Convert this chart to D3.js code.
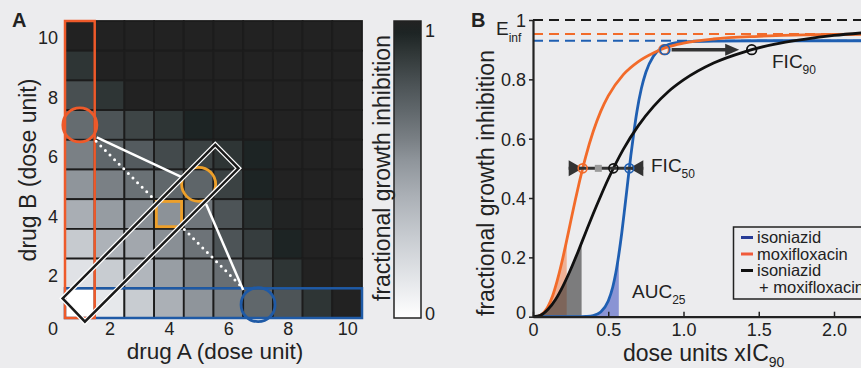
<!DOCTYPE html>
<html>
<head>
<meta charset="utf-8">
<script src="https://cdn.jsdelivr.net/npm/d3@7"></script>
<style>
html, body { margin: 0; padding: 0; background: #ececee; }
svg { display: block; font-family: "Liberation Sans", Arial, sans-serif; }
</style>
</head>
<body>
<script>
const width = 861;
const height = 368;

// ---- panel A data: fractional inhibition, top row = drug B dose 10 ----
const doseLevels = [1, 2, 3, 4, 5, 6, 7, 8, 9, 10];
const doseTicks = [2, 4, 6, 8, 10];
const inhibitionRows = [
    [1.00, 1.00, 1.00, 1.00, 1.00, 1.00, 1.00, 1.00, 1.00, 1.00],
    [0.90, 1.00, 1.00, 1.00, 1.00, 1.00, 1.00, 1.00, 1.00, 1.00],
    [0.80, 0.90, 1.00, 1.00, 1.00, 1.00, 1.00, 1.00, 1.00, 1.00],
    [0.68, 0.78, 0.84, 0.90, 0.96, 0.98, 1.00, 1.00, 1.00, 1.00],
    [0.60, 0.70, 0.75, 0.82, 0.85, 0.90, 0.96, 1.00, 1.00, 1.00],
    [0.53, 0.60, 0.66, 0.70, 0.71, 0.85, 0.96, 1.00, 1.00, 1.00],
    [0.42, 0.50, 0.55, 0.54, 0.64, 0.78, 0.92, 0.99, 1.00, 1.00],
    [0.28, 0.40, 0.45, 0.55, 0.65, 0.78, 0.87, 0.96, 1.00, 1.00],
    [0.15, 0.27, 0.38, 0.49, 0.59, 0.67, 0.80, 0.90, 1.00, 1.00],
    [0.00, 0.12, 0.27, 0.41, 0.53, 0.60, 0.70, 0.78, 0.90, 1.00]
];
const cmapStops = [0, 0.12, 0.27, 0.41, 0.53, 0.6, 0.7, 0.78, 0.9, 0.96, 1];
const cmapColors = ['#ffffff', '#e6e8eb', '#c8ccd1', '#abb0b6', '#8f959b', '#7a8085',
    '#60676b', '#4d5457', '#2e3535', '#1d2424', '#222222'];

// annotations on the dose grid (drug A, drug B)
const markedCircles = [
    {a: 1, b: 7, color: '#ee5a2a'},
    {a: 5, b: 5, color: '#eea02a'},
    {a: 7, b: 0.95, color: '#1f5aa6'}
];
const additiveSquare = {a: 4, b: 4};
const solidLinks = [[[1.57, 6.58], [4.43, 5.24]], [[5.25, 4.34], [6.5, 1.44]]];
const dottedLinks = [[[1.55, 6.45], [3.48, 4.52]], [[4.52, 3.48], [6.45, 1.55]]];
const diagonalBand = [[0.42, 1.16], [1.17, 0.375], [6.34, 5.54], [5.56, 6.33]];

// ---- panel B data: dose response curves ----
const isoniazid = [[0, 0], [0.3, 0], [0.35, 0.001], [0.4, 0.004], [0.45, 0.016], [0.5, 0.053],
    [0.53, 0.1], [0.55, 0.147], [0.57, 0.209], [0.59, 0.283], [0.61, 0.368], [0.63, 0.456],
    [0.65, 0.543], [0.67, 0.621], [0.69, 0.69], [0.72, 0.769], [0.75, 0.824], [0.8, 0.878],
    [0.85, 0.904], [0.9, 0.917], [1.0, 0.926], [1.2, 0.929], [1.5, 0.93], [2.2, 0.93]];
const moxifloxacin = [[0, 0], [0.02, 0], [0.05, 0.005], [0.08, 0.019], [0.1, 0.035], [0.13, 0.07],
    [0.16, 0.12], [0.19, 0.18], [0.22, 0.248], [0.25, 0.32], [0.28, 0.391], [0.31, 0.458],
    [0.35, 0.539], [0.4, 0.624], [0.45, 0.692], [0.5, 0.744], [0.6, 0.816], [0.7, 0.86],
    [0.8, 0.889], [0.9, 0.91], [1.0, 0.922], [1.2, 0.936], [1.5, 0.945], [1.8, 0.95], [2.2, 0.952]];
const combination = [[0, 0], [0.05, 0.005], [0.1, 0.025], [0.15, 0.058], [0.2, 0.104], [0.25, 0.159],
    [0.3, 0.22], [0.35, 0.284], [0.4, 0.347], [0.45, 0.407], [0.5, 0.464], [0.6, 0.564],
    [0.7, 0.644], [0.8, 0.708], [0.9, 0.759], [1.0, 0.798], [1.2, 0.855], [1.4, 0.892],
    [1.6, 0.918], [1.8, 0.935], [2.0, 0.948], [2.2, 0.957]];
const eInfLevels = [1, 0.953, 0.93];
const eInfColors = ['#1a1a1a', '#f26b2a', '#1f5fb2'];
const aucLimits = [0.224, 0.323, 0.57];     // moxifloxacin, combination, isoniazid
const fic50Doses = [0.33, 0.434, 0.534, 0.64]; // moxi, expected, combination, isoniazid
const fic90Doses = [0.87, 0.877, 1.453];     // moxi, isoniazid, combination
const fic90Arrow = [0.921, 1.37];
const xTicksB = [0, 0.5, 1, 1.5, 2];
const yTicksB = [0, 0.2, 0.4, 0.6, 0.8, 1];
const legendLabels = ['isoniazid', 'moxifloxacin', 'isoniazid', '+ moxifloxacin'];
const legendColors = ['#283c96', '#f05a3a', '#111111'];

const svg = d3.select('body').append('svg')
    .attr('width', width)
    .attr('height', height);

svg.append('rect').attr('width', width).attr('height', height).attr('fill', '#ececee');

// ================= panel A =================
const xA = d3.scaleLinear().domain([0.5, 10.5]).range([65, 362]);
const yA = d3.scaleLinear().domain([0.5, 10.5]).range([318, 21]);
const cmap = d3.scaleLinear().domain(cmapStops).range(cmapColors).interpolate(d3.interpolateRgb);

const cells = [];
inhibitionRows.forEach(function (row, i) {
    row.forEach(function (v, j) {
        cells.push({a: doseLevels[j], b: doseLevels[doseLevels.length - 1 - i], v: v});
    });
});

const gA = svg.append('g');
gA.selectAll('rect.cell')
    .data(cells)
    .enter().append('rect')
    .attr('class', 'cell')
    .attr('x', d => xA(d.a - 0.5))
    .attr('y', d => yA(d.b + 0.5))
    .attr('width', xA(1.5) - xA(0.5))
    .attr('height', yA(0.5) - yA(1.5))
    .attr('fill', d => cmap(d.v))
    .attr('stroke', '#1c1c1c')
    .attr('stroke-width', 1.8);

// single drug boxes
gA.append('rect')
    .attr('x', xA(0.5)).attr('y', yA(1.5))
    .attr('width', xA(10.5) - xA(0.5)).attr('height', yA(0.5) - yA(1.5))
    .attr('fill', 'none').attr('stroke', '#1f5aa6').attr('stroke-width', 2.5);
gA.append('rect')
    .attr('x', xA(0.5)).attr('y', yA(10.5))
    .attr('width', xA(1.5) - xA(0.5)).attr('height', yA(0.5) - yA(10.5))
    .attr('fill', 'none').attr('stroke', '#ee5a2a').attr('stroke-width', 2.5);

// additive square
const sq = (xA(1.5) - xA(0.5)) * 0.85;
gA.append('rect')
    .attr('x', xA(additiveSquare.a) - sq / 2).attr('y', yA(additiveSquare.b) - sq / 2)
    .attr('width', sq).attr('height', sq)
    .attr('fill', 'none').attr('stroke', '#eea02a').attr('stroke-width', 2.8);

const lineA = d3.line().x(d => xA(d[0])).y(d => yA(d[1]));
gA.selectAll('path.solid')
    .data(solidLinks)
    .enter().append('path')
    .attr('d', lineA)
    .attr('stroke', '#fff').attr('stroke-width', 2.5).attr('fill', 'none');
gA.selectAll('path.dotted')
    .data(dottedLinks)
    .enter().append('path')
    .attr('d', lineA)
    .attr('stroke', '#fff').attr('stroke-width', 3)
    .attr('stroke-linecap', 'round').attr('stroke-dasharray', '0 6.5')
    .attr('fill', 'none');

gA.selectAll('circle.mark')
    .data(markedCircles)
    .enter().append('circle')
    .attr('cx', d => xA(d.a)).attr('cy', d => yA(d.b)).attr('r', 17)
    .attr('fill', 'none').attr('stroke', d => d.color).attr('stroke-width', 2.8);

// diagonal band (white outline, black core)
const bandPath = lineA(diagonalBand) + 'Z';
gA.append('path').attr('d', bandPath).attr('fill', 'none')
    .attr('stroke', '#fff').attr('stroke-width', 5).attr('stroke-linejoin', 'miter');
gA.append('path').attr('d', bandPath).attr('fill', 'none')
    .attr('stroke', '#1a1a1a').attr('stroke-width', 2.5).attr('stroke-linejoin', 'miter');

// axes A
const axA = svg.append('g').attr('transform', 'translate(0,318)')
    .call(d3.axisBottom(xA).tickValues(doseTicks).tickSize(0));
axA.select('.domain').remove();
axA.selectAll('text').attr('y', 17).attr('dy', 0);
const ayA = svg.append('g').attr('transform', 'translate(65,0)')
    .call(d3.axisLeft(yA).tickValues(doseTicks).tickSize(0).tickPadding(7));
ayA.select('.domain').remove();
ayA.selectAll('text').attr('dy', '0.45em');
svg.selectAll('.tick text').attr('font-size', 18).attr('fill', '#222')
    .attr('font-family', '"Liberation Sans", Arial, sans-serif');
svg.append('text').attr('x', 53).attr('y', 335).attr('text-anchor', 'middle')
    .attr('font-size', 18).attr('fill', '#222').text('0');

svg.append('text').attr('x', 215).attr('y', 359).attr('text-anchor', 'middle')
    .attr('font-size', 22.5).attr('fill', '#222').text('drug A (dose unit)');
svg.append('text').attr('transform', 'translate(36,170) rotate(-90)').attr('text-anchor', 'middle')
    .attr('font-size', 23).attr('fill', '#222').text('drug B (dose unit)');

// colorbar
const grad = svg.append('defs').append('linearGradient')
    .attr('id', 'cbar').attr('x1', 0).attr('y1', 1).attr('x2', 0).attr('y2', 0);
grad.selectAll('stop')
    .data(cmapStops)
    .enter().append('stop')
    .attr('offset', d => (d * 100) + '%')
    .attr('stop-color', (d, i) => cmapColors[i]);
svg.append('rect').attr('x', 394).attr('y', 21).attr('width', 27).attr('height', 297)
    .attr('fill', 'url(#cbar)').attr('stroke', '#222').attr('stroke-width', 1.5);
svg.append('text').attr('x', 425).attr('y', 37).attr('font-size', 18).attr('fill', '#222').text('1');
svg.append('text').attr('x', 425).attr('y', 320).attr('font-size', 18).attr('fill', '#222').text('0');
svg.append('text').attr('transform', 'translate(390,168) rotate(-90)').attr('text-anchor', 'middle')
    .attr('font-size', 23).attr('fill', '#222').text('fractional growth inhibition');

svg.append('text').attr('x', 12).attr('y', 27).attr('font-size', 20).attr('font-weight', 'bold')
    .attr('fill', '#222').text('A');

// ================= panel B =================
const xB = d3.scaleLinear().domain([0, 2.2]).range([533, 533 + 2.2 * 150.5]);
const yB = d3.scaleLinear().domain([0, 1]).range([316.7, 20]);
const gB = svg.append('g');

const areaB = d3.area().curve(d3.curveMonotoneX).x(d => xB(d[0])).y0(yB(0)).y1(d => yB(d[1]));
const lineB = d3.line().curve(d3.curveMonotoneX).x(d => xB(d[0])).y(d => yB(d[1]));

const aucSets = [
    {pts: isoniazid, lim: aucLimits[2], fill: 'rgba(40,60,185,0.5)'},
    {pts: moxifloxacin, lim: aucLimits[0], fill: 'rgba(242,107,42,0.45)'},
    {pts: combination, lim: aucLimits[1], fill: 'rgba(50,50,50,0.6)'}
];
const defs = svg.select('defs');
aucSets.forEach(function (s, i) {
    defs.append('clipPath').attr('id', 'auc' + i)
        .append('rect').attr('x', xB(0)).attr('y', 0)
        .attr('width', xB(s.lim) - xB(0)).attr('height', height);
    gB.append('path').attr('d', areaB(s.pts)).attr('fill', s.fill)
        .attr('clip-path', 'url(#auc' + i + ')');
});

gB.selectAll('line.einf')
    .data(eInfLevels)
    .enter().append('line')
    .attr('x1', xB(0)).attr('x2', width)
    .attr('y1', d => yB(d)).attr('y2', d => yB(d))
    .attr('stroke', (d, i) => eInfColors[i]).attr('stroke-width', 2)
    .attr('stroke-dasharray', '10,6');

[[isoniazid, '#1f5fb2'], [moxifloxacin, '#f26b2a'], [combination, '#111']].forEach(function (c) {
    gB.append('path').attr('d', lineB(c[0])).attr('fill', 'none')
        .attr('stroke', c[1]).attr('stroke-width', 2.8);
});

// axes B
const axB = svg.append('g').attr('transform', 'translate(0,316.7)')
    .call(d3.axisBottom(xB).tickValues(xTicksB).tickSizeInner(-5).tickSizeOuter(0)
        .tickFormat(d => d === 0 ? '0' : d.toFixed(1)));
axB.selectAll('text').attr('y', 19).attr('dy', 0);
const ayB = svg.append('g').attr('transform', 'translate(533,0)')
    .call(d3.axisLeft(yB).tickValues(yTicksB).tickSizeInner(4).tickSizeOuter(0).tickPadding(3)
        .tickFormat(d => (d === 0 || d === 1) ? String(d) : d.toFixed(1)));
[axB, ayB].forEach(function (ax) {
    ax.select('.domain').attr('stroke', '#222').attr('stroke-width', 2.2);
    ax.selectAll('.tick line').attr('stroke', '#222').attr('stroke-width', 1.5);
    ax.selectAll('text').attr('font-size', 18).attr('fill', '#222')
        .attr('font-family', '"Liberation Sans", Arial, sans-serif');
});
ayB.selectAll('text').attr('dy', d => d === 0 ? '0.1em' : '0.36em');

function subText(x, y, main, sub, size, subSize, drop) {
    const t = svg.append('text').attr('x', x).attr('y', y).attr('font-size', size).attr('fill', '#222');
    t.append('tspan').text(main);
    t.append('tspan').attr('font-size', subSize).attr('dy', drop).text(sub);
    return t;
}

svg.append('text').attr('transform', 'translate(494,183) rotate(-90)').attr('text-anchor', 'middle')
    .attr('font-size', 23).attr('fill', '#222').text('fractional growth inhibition');
subText(623, 361, 'dose units xIC', '90', 23, 14, 6);

// FIC50 annotation
const y50 = yB(0.5);
const tri = 14;
gB.append('line')
    .attr('x1', xB(fic50Doses[0]) - tri).attr('x2', xB(fic50Doses[3]) + tri)
    .attr('y1', y50).attr('y2', y50)
    .attr('stroke', '#333').attr('stroke-width', 3);
gB.append('path')
    .attr('d', `M${xB(fic50Doses[0]) - tri},${y50 - 8}L${xB(fic50Doses[0])},${y50}L${xB(fic50Doses[0]) - tri},${y50 + 8}Z`)
    .attr('fill', '#333');
gB.append('path')
    .attr('d', `M${xB(fic50Doses[3]) + tri},${y50 - 8}L${xB(fic50Doses[3])},${y50}L${xB(fic50Doses[3]) + tri},${y50 + 8}Z`)
    .attr('fill', '#333');
gB.append('rect').attr('x', xB(fic50Doses[1]) - 3.5).attr('y', y50 - 3.5)
    .attr('width', 7).attr('height', 7).attr('fill', '#9a9a9a');
[[fic50Doses[0], '#f26b2a'], [fic50Doses[2], '#111'], [fic50Doses[3], '#1f5fb2']].forEach(function (p) {
    gB.append('circle').attr('cx', xB(p[0])).attr('cy', y50).attr('r', 4.5)
        .attr('fill', 'none').attr('stroke', p[1]).attr('stroke-width', 1.6);
});
subText(651, 172, 'FIC', '50', 19, 12, 6);

// FIC90 annotation
const y90 = yB(0.9);
gB.append('line').attr('x1', xB(fic90Arrow[0])).attr('x2', xB(fic90Arrow[1]) - 12)
    .attr('y1', y90).attr('y2', y90).attr('stroke', '#333').attr('stroke-width', 3.5);
gB.append('path')
    .attr('d', `M${xB(fic90Arrow[1]) - 14},${y90 - 6}L${xB(fic90Arrow[1])},${y90}L${xB(fic90Arrow[1]) - 14},${y90 + 6}Z`)
    .attr('fill', '#333');
[[fic90Doses[0], '#f26b2a'], [fic90Doses[1], '#1f5fb2'], [fic90Doses[2], '#111']].forEach(function (p) {
    gB.append('circle').attr('cx', xB(p[0])).attr('cy', y90).attr('r', 4.8)
        .attr('fill', 'none').attr('stroke', p[1]).attr('stroke-width', 1.8);
});
subText(772, 68, 'FIC', '90', 19, 12, 6);

subText(496, 35, 'E', 'inf', 19, 12, 7);
subText(632, 298, 'AUC', '25', 19, 12, 6);

// legend
const leg = svg.append('g');
leg.append('rect').attr('x', 733.5).attr('y', 227).attr('width', 150).attr('height', 72)
    .attr('fill', 'none').attr('stroke', '#222').attr('stroke-width', 1.5);
const legY = [243, 259.5, 276, 292.5];
leg.selectAll('line')
    .data(legendColors)
    .enter().append('line')
    .attr('x1', 741).attr('x2', 753)
    .attr('y1', (d, i) => legY[i] - 5.5).attr('y2', (d, i) => legY[i] - 5.5)
    .attr('stroke', d => d).attr('stroke-width', 3);
leg.selectAll('text')
    .data(legendLabels)
    .enter().append('text')
    .attr('x', (d, i) => i === 3 ? 759 : 757)
    .attr('y', (d, i) => legY[i])
    .attr('font-size', 16.5).attr('fill', '#222')
    .text(d => d);

svg.append('text').attr('x', 471).attr('y', 27).attr('font-size', 20).attr('font-weight', 'bold')
    .attr('fill', '#222').text('B');
</script>
</body>
</html>
